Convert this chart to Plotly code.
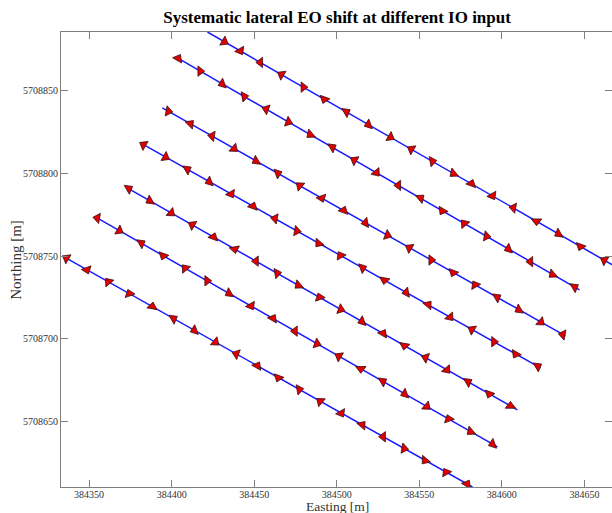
import plotly.graph_objects as go

# ---- data (metres, UTM) ----
tick_x = [384350, 384400, 384450, 384500, 384550, 384600, 384650]
tick_y = [5708650, 5708700, 5708750, 5708800, 5708850]

# flight line start/end points
line_x = [
    [384421.7, 384667.0],
    [384403.5, 384647.0],
    [384394.4, 384638.5],
    [384381.1, 384623.4],
    [384372.0, 384609.4],
    [384353.8, 384597.3],
    [384333.8, 384582.2],
]
line_y = [
    [5708885.7, 5708744.6],
    [5708870.0, 5708729.5],
    [5708839.7, 5708701.6],
    [5708818.5, 5708682.2],
    [5708791.9, 5708656.8],
    [5708773.7, 5708634.4],
    [5708750.1, 5708610.1],
]

# EO positions (arrow markers) per line
eo_x = [
    [384431.9, 384441.6, 384453.7, 384466.5, 384479.8, 384492.5, 384505.8, 384519.2, 384532.5, 384545.2,
     384557.9, 384570.7, 384581.6, 384594.3, 384607.0, 384621.0, 384634.3, 384647.6, 384662.1],
    [384404.0, 384417.3, 384430.7, 384444.0, 384457.3, 384470.7, 384484.0, 384497.3, 384510.7, 384524.0,
     384537.3, 384550.7, 384564.0, 384577.3, 384590.7, 384604.0, 384617.3, 384630.7, 384644.0],
    [384398.0, 384411.3, 384424.5, 384437.8, 384451.1, 384464.3, 384477.6, 384490.9, 384504.2, 384517.4,
     384530.7, 384544.0, 384557.2, 384570.5, 384583.8, 384597.1, 384610.3, 384623.6, 384636.9],
    [384383.0, 384396.3, 384409.5, 384422.8, 384436.0, 384449.3, 384462.6, 384475.8, 384489.1, 384502.3,
     384515.6, 384528.9, 384542.1, 384555.4, 384568.6, 384581.9, 384595.2, 384608.4, 384621.7],
    [384374.0, 384386.8, 384399.7, 384412.5, 384425.4, 384438.2, 384451.1, 384463.9, 384476.8, 384489.6,
     384502.4, 384515.3, 384528.1, 384541.0, 384553.8, 384566.7, 384579.5, 384592.4, 384605.2],
    [384355.0, 384368.3, 384381.6, 384394.9, 384408.2, 384421.5, 384434.8, 384448.1, 384461.4, 384474.7,
     384488.0, 384501.3, 384514.6, 384527.9, 384541.2, 384554.5, 384567.8, 384581.1, 384594.4],
    [384336.3, 384348.7, 384361.7, 384374.4, 384388.3, 384401.1, 384413.8, 384426.5, 384439.2, 384451.9,
     384464.6, 384477.3, 384490.0, 384502.7, 384515.4, 384528.1, 384540.8, 384553.5, 384566.2, 384578.9],
]
eo_y = [
    [5708879.8, 5708874.3, 5708867.3, 5708859.9, 5708852.3, 5708845.0, 5708837.3, 5708829.6, 5708822.0, 5708814.7,
     5708807.4, 5708800.0, 5708793.8, 5708786.5, 5708779.2, 5708771.1, 5708763.5, 5708755.8, 5708747.5],
    [5708869.7, 5708862.0, 5708854.3, 5708846.6, 5708839.0, 5708831.2, 5708823.6, 5708815.9, 5708808.1, 5708800.5,
     5708792.8, 5708785.1, 5708777.4, 5708769.7, 5708762.0, 5708754.3, 5708746.6, 5708738.9, 5708731.2],
    [5708837.7, 5708830.1, 5708822.7, 5708815.1, 5708807.6, 5708800.1, 5708792.6, 5708785.1, 5708777.6, 5708770.1,
     5708762.6, 5708755.0, 5708747.6, 5708740.0, 5708732.5, 5708725.0, 5708717.5, 5708710.0, 5708702.4],
    [5708817.4, 5708809.9, 5708802.5, 5708795.0, 5708787.6, 5708780.1, 5708772.7, 5708765.2, 5708757.7, 5708750.3,
     5708742.8, 5708735.4, 5708727.9, 5708720.5, 5708713.0, 5708705.5, 5708698.1, 5708690.6, 5708683.2],
    [5708790.8, 5708783.5, 5708776.1, 5708768.9, 5708761.5, 5708754.2, 5708746.9, 5708739.6, 5708732.3, 5708725.0,
     5708717.7, 5708710.4, 5708703.1, 5708695.7, 5708688.5, 5708681.1, 5708673.8, 5708666.5, 5708659.2],
    [5708773.0, 5708765.4, 5708757.8, 5708750.2, 5708742.6, 5708735.0, 5708727.4, 5708719.8, 5708712.2, 5708704.5,
     5708696.9, 5708689.3, 5708681.7, 5708674.1, 5708666.5, 5708658.9, 5708651.3, 5708643.7, 5708636.1],
    [5708748.7, 5708741.7, 5708734.4, 5708727.2, 5708719.4, 5708712.1, 5708705.0, 5708697.8, 5708690.7, 5708683.5,
     5708676.3, 5708669.2, 5708662.0, 5708654.8, 5708647.7, 5708640.5, 5708633.4, 5708626.2, 5708619.0, 5708611.9],
]
# shift direction of each arrow (degrees clockwise from north)
eo_dir = [
    [120, 150, 270, 300, 90, 200, 60, 250, 120, 300, 80, 230, 20, 150, 280, 180, 240, 200, 300],
    [30, 90, 250, 80, 290, 110, 230, 60, 300, 140, 270, 50, 210, 320, 100, 250, 270, 230, 60],
    [100, 45, 280, 130, 240, 70, 310, 160, 20, 260, 110, 300, 90, 200, 330, 60, 240, 130, 280],
    [300, 120, 60, 250, 150, 20, 280, 100, 220, 330, 70, 190, 260, 40, 140, 300, 90, 210, 60],
    [60, 240, 130, 300, 20, 170, 270, 80, 230, 340, 110, 250, 30, 190, 290, 140, 60, 200, 0],
    [280, 120, 60, 200, 320, 90, 240, 150, 30, 270, 110, 300, 180, 60, 250, 130, 340, 230, 250],
    [300, 160, 320, 340, 10, 60, 250, 130, 290, 30, 200, 80, 310, 150, 40, 270, 100, 220, 330, 30],
]

fig = go.Figure()
for lx, ly in zip(line_x, line_y):
    fig.add_trace(go.Scatter(x=lx, y=ly, mode="lines",
                             line=dict(color="#1a1aff", width=1.5),
                             hoverinfo="skip", showlegend=False))
for ex, ey, ed in zip(eo_x, eo_y, eo_dir):
    fig.add_trace(go.Scatter(x=ex, y=ey, mode="markers",
                             marker=dict(symbol="triangle-up", size=9, angle=ed,
                                         color="#e00000",
                                         line=dict(color="#3a1010", width=0.8)),
                             showlegend=False))

serif = "Liberation Serif, Times New Roman, serif"
fig.update_layout(
    width=612, height=513,
    margin=dict(l=61, r=0, t=32, b=26),
    paper_bgcolor="white", plot_bgcolor="white",
    title=dict(text="Systematic lateral EO shift at different IO input",
               x=0.501, xref="paper", y=0.966, yref="container",
               xanchor="center", yanchor="middle",
               font=dict(family=serif, size=17, color="black", weight="bold")),
    font=dict(family=serif),
)
axis_common = dict(showline=True, linecolor="#808080", linewidth=1, mirror="ticks",
                   ticks="inside", ticklen=7, tickcolor="#808080", tickwidth=1,
                   showgrid=False, zeroline=False,
                   tickfont=dict(family=serif, size=10, color="#333333"))
fig.update_xaxes(range=[384333.0, 384666.7], tickvals=tick_x,
                 ticktext=[str(v) for v in tick_x], ticklabelstandoff=-2, **axis_common)
fig.update_yaxes(range=[5708610.1, 5708885.7], tickvals=tick_y,
                 ticktext=[str(v) for v in tick_y], **axis_common)
fig.add_annotation(text="Easting [m]", xref="paper", yref="paper", x=0.501, y=-0.0418,
                   xanchor="center", yanchor="middle", showarrow=False,
                   font=dict(family=serif, size=13.5, color="#333333"))
fig.add_annotation(text="Northing [m]", xref="paper", yref="paper", x=-0.083, y=0.5,
                   xanchor="center", yanchor="middle", showarrow=False, textangle=-90,
                   font=dict(family=serif, size=15, color="#333333"))

fig.write_html("out.html")
